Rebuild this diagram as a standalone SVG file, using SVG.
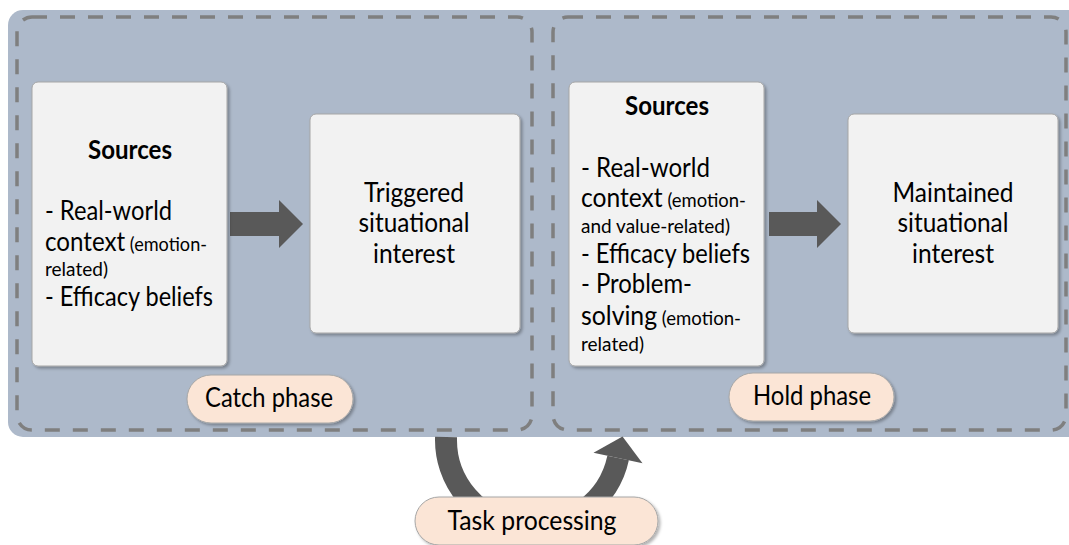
<svg xmlns="http://www.w3.org/2000/svg" width="1069" height="545" viewBox="0 0 1069 545">
<defs>
<filter id="sh" x="-10%" y="-10%" width="130%" height="130%">
<feDropShadow dx="2" dy="2" stdDeviation="1.8" flood-color="#000" flood-opacity="0.3"/>
</filter>
</defs>
<style>
.t{font-family:Lato,'Liberation Sans',sans-serif;fill:#000}
.m{font-size:26px}
.s{font-size:19.5px}
.b{font-weight:bold}
.box{fill:#f2f2f2;stroke:#a6a6a6;stroke-width:1}
.pill{fill:#fbe5d6;stroke:#a6a6a6;stroke-width:1}
.dash{fill:none;stroke:#7f7f7f;stroke-width:3.5;stroke-dasharray:15 13}
.arr{fill:#595959}
.curve{fill:none;stroke:#595959;stroke-width:22}
</style>
<rect id="background" x="8" y="10" width="1080" height="427" rx="15" fill="#adb9ca"/>
<g id="catch-phase-frame"><rect class="dash" x="17" y="17" width="515" height="413" rx="15"/></g>
<g id="hold-phase-frame"><rect class="dash" x="553" y="17" width="513" height="413" rx="15"/></g>
<g id="connectors">
<polygon class="arr" points="230,212 279,212 279,200 303,224 279,248 279,236 230,236"/>
<polygon class="arr" points="769,212 817,212 817,200 841,224 817,248 817,236 769,236"/>
<path class="curve" d="M 446.05 437 A 87 87 0 0 0 618.1 458"/>
<polygon class="arr" points="593.5,452.8 622.5,436.5 642.5,463.2"/>
</g>
<g id="sources-catch">
<rect class="box" filter="url(#sh)" x="32" y="82" width="195" height="284" rx="6"/>
<text class="t m b" x="130" y="159" text-anchor="middle" textLength="84" lengthAdjust="spacingAndGlyphs">Sources</text>
<text class="t m" x="45" y="220" textLength="127" lengthAdjust="spacingAndGlyphs">- Real-world</text>
<text class="t m" x="45" y="251" textLength="162" lengthAdjust="spacingAndGlyphs">context<tspan class="s"> (emotion-</tspan></text>
<text class="t s" x="45" y="276" textLength="63" lengthAdjust="spacingAndGlyphs">related)</text>
<text class="t m" x="45" y="306" textLength="168" lengthAdjust="spacingAndGlyphs">- Efficacy beliefs</text>
</g>
<g id="triggered">
<rect class="box" filter="url(#sh)" x="310" y="114" width="210" height="219" rx="6"/>
<text class="t m" x="414" y="202" text-anchor="middle" textLength="100" lengthAdjust="spacingAndGlyphs">Triggered</text>
<text class="t m" x="414" y="232" text-anchor="middle" textLength="111" lengthAdjust="spacingAndGlyphs">situational</text>
<text class="t m" x="414" y="263" text-anchor="middle" textLength="82" lengthAdjust="spacingAndGlyphs">interest</text>
</g>
<g id="sources-hold">
<rect class="box" filter="url(#sh)" x="569" y="82" width="195" height="284" rx="6"/>
<text class="t m b" x="667" y="115" text-anchor="middle" textLength="84" lengthAdjust="spacingAndGlyphs">Sources</text>
<text class="t m" x="581" y="177" textLength="129" lengthAdjust="spacingAndGlyphs">- Real-world</text>
<text class="t m" x="581" y="207" textLength="165" lengthAdjust="spacingAndGlyphs">context<tspan class="s"> (emotion-</tspan></text>
<text class="t s" x="581" y="233" textLength="149" lengthAdjust="spacingAndGlyphs">and value-related)</text>
<text class="t m" x="581" y="263" textLength="169" lengthAdjust="spacingAndGlyphs">- Efficacy beliefs</text>
<text class="t m" x="581" y="293" textLength="111" lengthAdjust="spacingAndGlyphs">- Problem-</text>
<text class="t m" x="581" y="325" textLength="160" lengthAdjust="spacingAndGlyphs">solving<tspan class="s"> (emotion-</tspan></text>
<text class="t s" x="581" y="351" textLength="63" lengthAdjust="spacingAndGlyphs">related)</text>
</g>
<g id="maintained">
<rect class="box" filter="url(#sh)" x="848" y="114" width="210" height="219" rx="6"/>
<text class="t m" x="953" y="202" text-anchor="middle" textLength="121" lengthAdjust="spacingAndGlyphs">Maintained</text>
<text class="t m" x="953" y="232" text-anchor="middle" textLength="111" lengthAdjust="spacingAndGlyphs">situational</text>
<text class="t m" x="953" y="263" text-anchor="middle" textLength="82" lengthAdjust="spacingAndGlyphs">interest</text>
</g>
<g id="catch-phase">
<rect class="pill" filter="url(#sh)" x="187" y="375" width="166" height="48" rx="24"/>
<text class="t m" x="269" y="407" text-anchor="middle" textLength="128" lengthAdjust="spacingAndGlyphs">Catch phase</text>
</g>
<g id="hold-phase">
<rect class="pill" filter="url(#sh)" x="729" y="373" width="165" height="48" rx="24"/>
<text class="t m" x="812" y="405" text-anchor="middle" textLength="118" lengthAdjust="spacingAndGlyphs">Hold phase</text>
</g>
<g id="task-processing">
<rect class="pill" filter="url(#sh)" x="415" y="497" width="243" height="48" rx="24"/>
<text class="t m" x="532" y="530" text-anchor="middle" textLength="169" lengthAdjust="spacingAndGlyphs">Task processing</text>
</g>
</svg>
